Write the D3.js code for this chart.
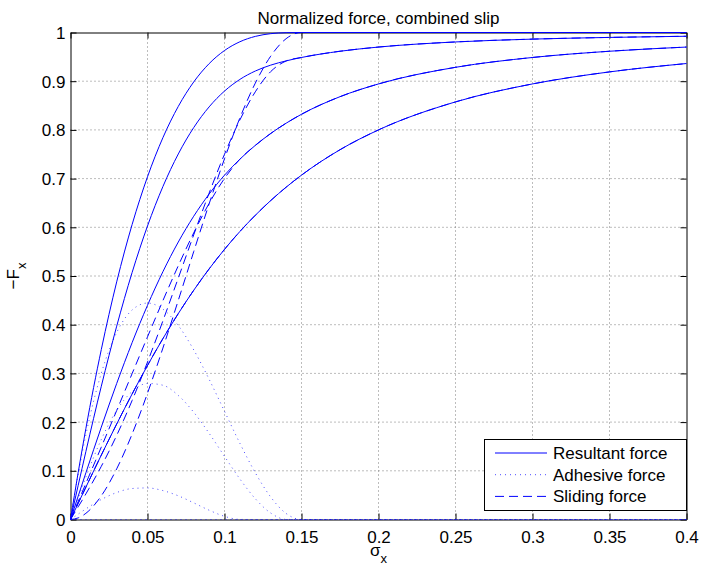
<!DOCTYPE html>
<html>
<head>
<meta charset="utf-8">
<script src="https://cdn.jsdelivr.net/npm/d3@7"></script>
<style>
  html, body { margin: 0; padding: 0; background: #fff; }
  svg { display: block; }
  text { font-family: "Liberation Sans", Arial, Helvetica, sans-serif; fill: #000; }
</style>
</head>
<body>
<svg id="chart" width="701" height="568"></svg>
<script>
// ---- data ----
const titleText = "Normalized force, combined slip";
const sigmaX = [0, 0.005, 0.01, 0.02, 0.03, 0.04, 0.05, 0.06, 0.07, 0.08, 0.09, 0.10,
                0.11, 0.12, 0.13, 0.14, 0.15, 0.175, 0.2, 0.25, 0.3, 0.35, 0.4];

// resultant force, one array per curve (highest to lowest)
const resultant1 = [0, 0.0967, 0.1870, 0.3490, 0.4880, 0.6056, 0.7037, 0.7840, 0.8483, 0.8984, 0.9360, 0.9630,
                    0.9810, 0.9920, 0.9976, 0.9997, 1, 1, 1, 1, 1, 1, 1];
const resultant2 = [0, 0.0702, 0.1397, 0.2736, 0.3970, 0.5071, 0.6027, 0.6836, 0.7506, 0.8047, 0.8472, 0.8797,
                    0.9037, 0.9209, 0.9330, 0.9417, 0.9487, 0.9615, 0.9701, 0.9806, 0.9864, 0.9899, 0.9923];
const resultant3 = [0, 0.0481, 0.0959, 0.1897, 0.2793, 0.3631, 0.4398, 0.5088, 0.5698, 0.6227, 0.6682, 0.7070,
                    0.7399, 0.7682, 0.7926, 0.8137, 0.8321, 0.8682, 0.8944, 0.9285, 0.9487, 0.9615, 0.9701];
const resultant4 = [0, 0.0333, 0.0665, 0.1322, 0.1961, 0.2577, 0.3162, 0.3714, 0.4229, 0.4706, 0.5145, 0.5547,
                    0.5914, 0.6247, 0.6549, 0.6823, 0.7071, 0.7593, 0.8000, 0.8575, 0.8944, 0.9191, 0.9363];

// adhesive force
const adhesive1 = [0, 0.0934, 0.1742, 0.3004, 0.3840, 0.4302, 0.4444, 0.4320, 0.3982, 0.3484, 0.2880, 0.2222,
                   0.1564, 0.0960, 0.0462, 0.0124, 0, 0, 0, 0, 0, 0, 0];
const adhesive2 = [0, 0.0442, 0.0871, 0.1644, 0.2242, 0.2628, 0.2794, 0.2757, 0.2547, 0.2203, 0.1771, 0.1297,
                   0.0832, 0.0427, 0.0133, 0.0002, 0, 0, 0, 0, 0, 0, 0];
const adhesive3 = [0, 0.0111, 0.0218, 0.0410, 0.0554, 0.0636, 0.0648, 0.0594, 0.0486, 0.0342, 0.0191, 0.0065,
                   0.0002, 0, 0, 0, 0, 0, 0, 0, 0, 0, 0];
const adhesive4 = [0, 0, 0, 0, 0, 0, 0, 0, 0, 0, 0, 0, 0, 0, 0, 0, 0, 0, 0, 0, 0, 0, 0];

// sliding force
const sliding1 = [0, 0.0033, 0.0127, 0.0486, 0.1040, 0.1754, 0.2593, 0.3520, 0.4501, 0.5499, 0.6480, 0.7407,
                  0.8246, 0.8960, 0.9514, 0.9873, 1, 1, 1, 1, 1, 1, 1];
const sliding2 = [0, 0.0260, 0.0526, 0.1092, 0.1728, 0.2443, 0.3233, 0.4079, 0.4959, 0.5844, 0.6701, 0.7500,
                  0.8205, 0.8782, 0.9197, 0.9415, 0.9487, 0.9615, 0.9701, 0.9806, 0.9864, 0.9899, 0.9923];
const sliding3 = [0, 0.0370, 0.0742, 0.1487, 0.2238, 0.2995, 0.3750, 0.4494, 0.5212, 0.5885, 0.6491, 0.7004,
                  0.7398, 0.7682, 0.7926, 0.8137, 0.8321, 0.8682, 0.8944, 0.9285, 0.9487, 0.9615, 0.9701];
const sliding4 = [0, 0.0333, 0.0665, 0.1322, 0.1961, 0.2577, 0.3162, 0.3714, 0.4229, 0.4706, 0.5145, 0.5547,
                  0.5914, 0.6247, 0.6549, 0.6823, 0.7071, 0.7593, 0.8000, 0.8575, 0.8944, 0.9191, 0.9363];

const xTicks = [0, 0.05, 0.1, 0.15, 0.2, 0.25, 0.3, 0.35, 0.4];
const xTickLabels = ["0", "0.05", "0.1", "0.15", "0.2", "0.25", "0.3", "0.35", "0.4"];
const yTicks = [0, 0.1, 0.2, 0.3, 0.4, 0.5, 0.6, 0.7, 0.8, 0.9, 1];
const yTickLabels = ["0", "0.1", "0.2", "0.3", "0.4", "0.5", "0.6", "0.7", "0.8", "0.9", "1"];
const legendLabels = ["Resultant force", "Adhesive force", "Sliding force"];

// ---- drawing ----
const margin = {left: 70.5, top: 32.5, right: 14.5, bottom: 48.5};
const W = 701, H = 568;
const pw = W - margin.left - margin.right;   // 616
const ph = H - margin.top - margin.bottom;   // 487

const svg = d3.select("#chart");
const x = d3.scaleLinear().domain([0, 0.4]).range([margin.left, margin.left + pw]);
const y = d3.scaleLinear().domain([0, 1]).range([margin.top + ph, margin.top]);

const blue = "#0000ff";
const fontSize = 17;

// grid
const grid = svg.append("g");
xTicks.slice(1, -1).forEach(t => {
  grid.append("line").attr("x1", x(t)).attr("x2", x(t))
    .attr("y1", y(0)).attr("y2", y(1))
    .attr("stroke", "#7a7a7a").attr("stroke-width", 1).attr("stroke-dasharray", "1,3");
});
yTicks.slice(1, -1).forEach(t => {
  grid.append("line").attr("x1", x(0)).attr("x2", x(0.4))
    .attr("y1", y(t)).attr("y2", y(t))
    .attr("stroke", "#7a7a7a").attr("stroke-width", 1).attr("stroke-dasharray", "1,3");
});

// axes via d3 axis generators (inner ticks on all four sides)
const tickLen = 6;
const axB = svg.append("g").attr("transform", `translate(0,${y(0)})`)
  .call(d3.axisBottom(x).tickValues(xTicks).tickSizeInner(-tickLen).tickSizeOuter(0)
    .tickFormat((d, i) => xTickLabels[i]));
const axT = svg.append("g").attr("transform", `translate(0,${y(1)})`)
  .call(d3.axisTop(x).tickValues(xTicks).tickSizeInner(-tickLen).tickSizeOuter(0).tickFormat(""));
const axL = svg.append("g").attr("transform", `translate(${x(0)},0)`)
  .call(d3.axisLeft(y).tickValues(yTicks).tickSizeInner(-tickLen).tickSizeOuter(0)
    .tickFormat((d, i) => yTickLabels[i]));
const axR = svg.append("g").attr("transform", `translate(${x(0.4)},0)`)
  .call(d3.axisRight(y).tickValues(yTicks).tickSizeInner(-tickLen).tickSizeOuter(0).tickFormat(""));

[axB, axT, axL, axR].forEach(a => {
  a.selectAll(".domain").attr("stroke", "#000").attr("stroke-width", 1);
  a.selectAll(".tick line").attr("stroke", "#000").attr("stroke-width", 1);
  a.selectAll("text").attr("font-size", fontSize)
    .attr("font-family", '"Liberation Sans", Arial, Helvetica, sans-serif').attr("fill", "#000");
});
axB.selectAll(".tick text").attr("y", 11).attr("dy", "0.71em");
axL.selectAll(".tick text").attr("x", -5).attr("dy", "0.35em");

// curves
const line = d3.line().x((d, i) => x(sigmaX[i])).y(d => y(d)).curve(d3.curveMonotoneX);
const curves = svg.append("g").attr("fill", "none");
[adhesive1, adhesive2, adhesive3, adhesive4].forEach(s => {
  curves.append("path").attr("d", line(s)).attr("stroke", blue).attr("stroke-opacity", 0.7)
    .attr("stroke-width", 1).attr("stroke-dasharray", "1,4");
});
[sliding1, sliding2, sliding3, sliding4].forEach(s => {
  curves.append("path").attr("d", line(s)).attr("stroke", blue)
    .attr("stroke-width", 1).attr("stroke-dasharray", "9,5");
});
[resultant1, resultant2, resultant3, resultant4].forEach(s => {
  curves.append("path").attr("d", line(s)).attr("stroke", blue).attr("stroke-width", 1);
});

// title
svg.append("text").attr("x", x(0.2)).attr("y", 24).attr("text-anchor", "middle")
  .attr("font-size", fontSize).text(titleText);

// x label
const xl = svg.append("text").attr("x", x(0.2)).attr("y", 556).attr("text-anchor", "middle")
  .attr("font-size", fontSize);
xl.append("tspan").text("σ");
xl.append("tspan").attr("font-size", 13).attr("dy", 7).text("x");

// y label
const yl = svg.append("text").attr("transform", `translate(19,${y(0.5)}) rotate(-90)`)
  .attr("text-anchor", "middle").attr("font-size", fontSize);
yl.append("tspan").text("−F");
yl.append("tspan").attr("font-size", 13).attr("dy", 7).text("x");

// legend
const lg = svg.append("g");
lg.append("rect").attr("x", 484.5).attr("y", 439.5).attr("width", 202).attr("height", 71)
  .attr("fill", "#fff").attr("stroke", "#000").attr("stroke-width", 1);
const legendStyles = [
  {dash: null, op: 1},
  {dash: "1,4", op: 0.7},
  {dash: "9,5", op: 1}
];
legendLabels.forEach((lab, i) => {
  const cy = 453 + i * 21.7;
  const l = lg.append("line").attr("x1", 495).attr("x2", 547).attr("y1", cy).attr("y2", cy)
    .attr("stroke", blue).attr("stroke-width", 1).attr("stroke-opacity", legendStyles[i].op);
  if (legendStyles[i].dash) l.attr("stroke-dasharray", legendStyles[i].dash);
  lg.append("text").attr("x", 553).attr("y", cy).attr("dy", "0.35em")
    .attr("font-size", fontSize).text(lab);
});
</script>
</body>
</html>
